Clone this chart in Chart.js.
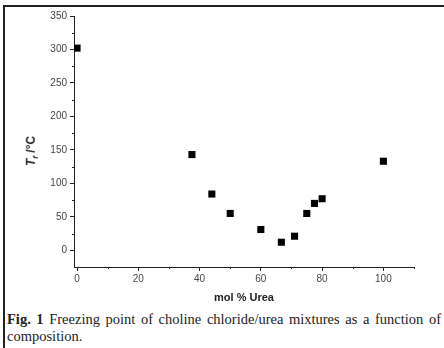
<!DOCTYPE html>
<html>
<head>
<meta charset="utf-8">
<script src="https://cdn.jsdelivr.net/npm/chart.js@4"></script>
<style>
  html, body { margin: 0; padding: 0; background: #fff; }
  #wrap { position: relative; width: 444px; height: 348px; overflow: hidden; }
  #frame { position: absolute; left: 3px; top: 5px; width: 441px; height: 343px;
           border-top: 2px solid #222; border-left: 2px solid #222; box-sizing: border-box; }
  #chartBox { position: absolute; left: 0; top: 0; width: 444px; height: 305px; }
  #ytitle { position: absolute; left: 32px; top: 151px; transform: translate(-50%, -50%) rotate(-90deg);
            font: bold 12px "Liberation Sans", Arial, sans-serif; color: #222; white-space: nowrap; }
  #ytitle i sub { font-size: 8px; }
  #caption { position: absolute; left: 7px; top: 311px; width: 434px;
             font: 14.5px/17px "Liberation Serif", "Times New Roman", serif; color: #222;
             text-align: justify; }
</style>
</head>
<body>
<div id="wrap">
  <div id="frame"></div>
  <div id="chartBox"><canvas id="chart"></canvas></div>
  <div id="ytitle"><i>T<sub>f</sub></i> /°C</div>
  <div id="caption"><b>Fig. 1</b> Freezing point of choline chloride/urea mixtures as a function of composition.</div>
</div>
<script>
// mol % urea and freezing point (°C)
const molUrea = [0, 37.5, 44, 50, 60, 66.7, 71, 75, 77.5, 80, 100];
const freezeT = [302, 143, 84, 55, 31, 12, 21, 55, 70, 77, 133];
const xTicks = [0, 20, 40, 60, 80, 100];
const yTicks = [0, 50, 100, 150, 200, 250, 300, 350];

const points = molUrea.map((x, i) => ({ x: x, y: freezeT[i] }));

// small ticks between the labelled ones
const minorTicks = {
  id: 'minorTicks',
  afterDraw(chart) {
    const ctx = chart.ctx;
    const xs = chart.scales.x, ys = chart.scales.y;
    ctx.save();
    ctx.strokeStyle = '#222';
    ctx.lineWidth = 1;
    ctx.beginPath();
    for (let v = 10; v <= 110; v += 20) {
      const px = Math.round(xs.getPixelForValue(v)) + 0.5;
      ctx.moveTo(px, ys.bottom);
      ctx.lineTo(px, ys.bottom + 2);
    }
    for (let v = 25; v <= 325; v += 50) {
      const py = Math.round(ys.getPixelForValue(v)) + 0.5;
      ctx.moveTo(xs.left, py);
      ctx.lineTo(xs.left - 2, py);
    }
    ctx.stroke();
    ctx.restore();
  }
};

new Chart(document.getElementById('chart'), {
  type: 'scatter',
  data: {
    datasets: [{
      data: points,
      pointStyle: 'rect',
      pointRadius: 5,
      pointHoverRadius: 5,
      backgroundColor: '#000',
      borderColor: '#000',
      borderWidth: 0
    }]
  },
  options: {
    responsive: true,
    maintainAspectRatio: false,
    animation: false,
    layout: { padding: { top: 16, right: 30, left: 0, bottom: 0 } },
    plugins: { legend: { display: false }, tooltip: { enabled: false } },
    scales: {
      x: {
        type: 'linear',
        min: -1,
        max: 110,
        afterBuildTicks: s => { s.ticks = xTicks.map(v => ({ value: v })); },
        afterFit: s => { s.height = 38; },
        border: { display: true, color: '#222', width: 1 },
        grid: { drawOnChartArea: false, drawTicks: true, tickLength: 4, color: '#222' },
        ticks: { color: '#444', font: { family: 'Liberation Sans', size: 10 }, padding: 2, maxRotation: 0 },
        title: {
          display: true, text: 'mol % Urea', color: '#222',
          font: { family: 'Liberation Sans', size: 11, weight: 'bold' }, padding: { top: 2, bottom: 0 }
        }
      },
      y: {
        min: -25,
        max: 350,
        afterBuildTicks: s => { s.ticks = yTicks.map(v => ({ value: v })); },
        afterFit: s => { s.width = 74; },
        border: { display: true, color: '#222', width: 1 },
        grid: { drawOnChartArea: false, drawTicks: true, tickLength: 4, color: '#222' },
        ticks: { color: '#444', font: { family: 'Liberation Sans', size: 10 }, padding: 3 }
      }
    }
  },
  plugins: [minorTicks]
});
</script>
</body>
</html>
